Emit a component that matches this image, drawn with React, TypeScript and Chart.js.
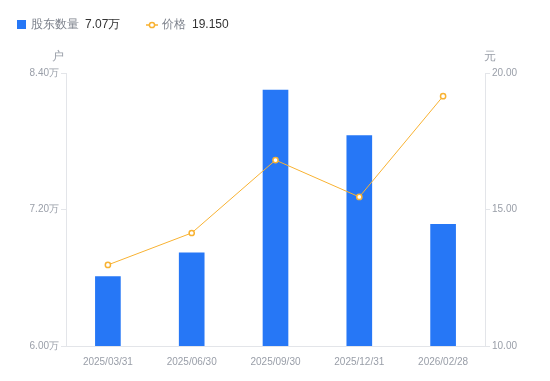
import React, { useEffect, useRef } from "react";
import { Chart, registerables } from "chart.js";
Chart.register(...registerables);

const categories = ["2025/03/31", "2025/06/30", "2025/09/30", "2025/12/31", "2026/02/28"];
const holders = [6.61, 6.82, 8.25, 7.85, 7.07];
const prices = [12.97, 14.14, 16.81, 15.46, 19.15];
const holderLegendValue = "7.07万";
const priceLegendValue = "19.150";

const FONT = "'Liberation Sans', Arial, sans-serif";
const BLUE = "#2677f6";
const ORANGE = "#f8b232";

const overlayPlugin = {
  id: "overlay",
  afterDraw(chart: any) {
    const ctx = chart.ctx;
    ctx.save();
    // legend
    ctx.textBaseline = "middle";
    ctx.font = `12px ${FONT}`;
    ctx.fillStyle = BLUE;
    ctx.fillRect(17, 20, 9, 9);
    ctx.textAlign = "left";
    ctx.fillStyle = "#7d828c";
    ctx.fillText("股东数量", 31, 25);
    ctx.fillStyle = "#333";
    ctx.fillText(holderLegendValue, 85, 25);
    ctx.strokeStyle = ORANGE;
    ctx.lineWidth = 1.5;
    ctx.beginPath();
    ctx.moveTo(146, 25);
    ctx.lineTo(158, 25);
    ctx.stroke();
    ctx.beginPath();
    ctx.fillStyle = "#fff";
    ctx.arc(152, 25, 2.6, 0, Math.PI * 2);
    ctx.fill();
    ctx.stroke();
    ctx.fillStyle = "#7d828c";
    ctx.fillText("价格", 162, 25);
    ctx.fillStyle = "#333";
    ctx.fillText(priceLegendValue, 192, 25);
    // axis titles
    ctx.font = `12px ${FONT}`;
    ctx.fillStyle = "#999ea8";
    ctx.textAlign = "center";
    ctx.fillText("户", 58, 57);
    ctx.fillText("元", 490, 57);
    ctx.restore();
  },
};

export default function App() {
  const ref = useRef<HTMLCanvasElement>(null);
  useEffect(() => {
    document.body.style.margin = "0";
    const chart = new Chart(ref.current!, {
      type: "bar",
      data: {
        labels: categories,
        datasets: [
          {
            type: "line",
            data: prices,
            yAxisID: "y1",
            borderColor: ORANGE,
            borderWidth: 1,
            pointRadius: 2.6,
            pointBorderWidth: 1.5,
            pointBackgroundColor: "#fff",
            pointBorderColor: ORANGE,
            order: 0,
          } as any,
          {
            type: "bar",
            data: holders,
            yAxisID: "y",
            backgroundColor: BLUE,
            barThickness: 25,
            order: 1,
          },
        ],
      },
      options: {
        animation: false,
        responsive: false,
        layout: { padding: { top: 73, left: 0, right: 0, bottom: 0 } },
        plugins: { legend: { display: false }, tooltip: { enabled: false } },
        scales: {
          x: {
            grid: { display: false },
            border: { color: "#e3e5e9" },
            ticks: { color: "#999ea8", font: { size: 10, family: FONT }, padding: 2, maxRotation: 0 },
            afterFit: (s: any) => { s.height = 35; },
          },
          y: {
            position: "left",
            min: 6,
            max: 8.4,
            afterBuildTicks: (s: any) => { s.ticks = [6, 7.2, 8.4].map((v) => ({ value: v })); },
            grid: { drawOnChartArea: false, drawTicks: true, tickLength: 5, color: "#e3e5e9" },
            border: { color: "#e3e5e9" },
            ticks: {
              color: "#999ea8",
              font: { size: 10, family: FONT },
              padding: 2,
              callback: (v: any) => Number(v).toFixed(2) + "万",
            },
            afterFit: (s: any) => { s.width = 66; },
          },
          y1: {
            position: "right",
            min: 10,
            max: 20,
            afterBuildTicks: (s: any) => { s.ticks = [10, 15, 20].map((v) => ({ value: v })); },
            grid: { drawOnChartArea: false, drawTicks: true, tickLength: 5, color: "#e3e5e9" },
            border: { color: "#e3e5e9" },
            ticks: {
              color: "#999ea8",
              font: { size: 10, family: FONT },
              padding: 2,
              callback: (v: any) => Number(v).toFixed(2),
            },
            afterFit: (s: any) => { s.width = 65; },
          },
        },
      },
      plugins: [overlayPlugin],
    });
    return () => chart.destroy();
  }, []);
  return (
    <div style={{ position: "fixed", left: 0, top: 0, width: 550, height: 381 }}>
      <canvas ref={ref} width={550} height={381} style={{ width: 550, height: 381 }} />
    </div>
  );
}
